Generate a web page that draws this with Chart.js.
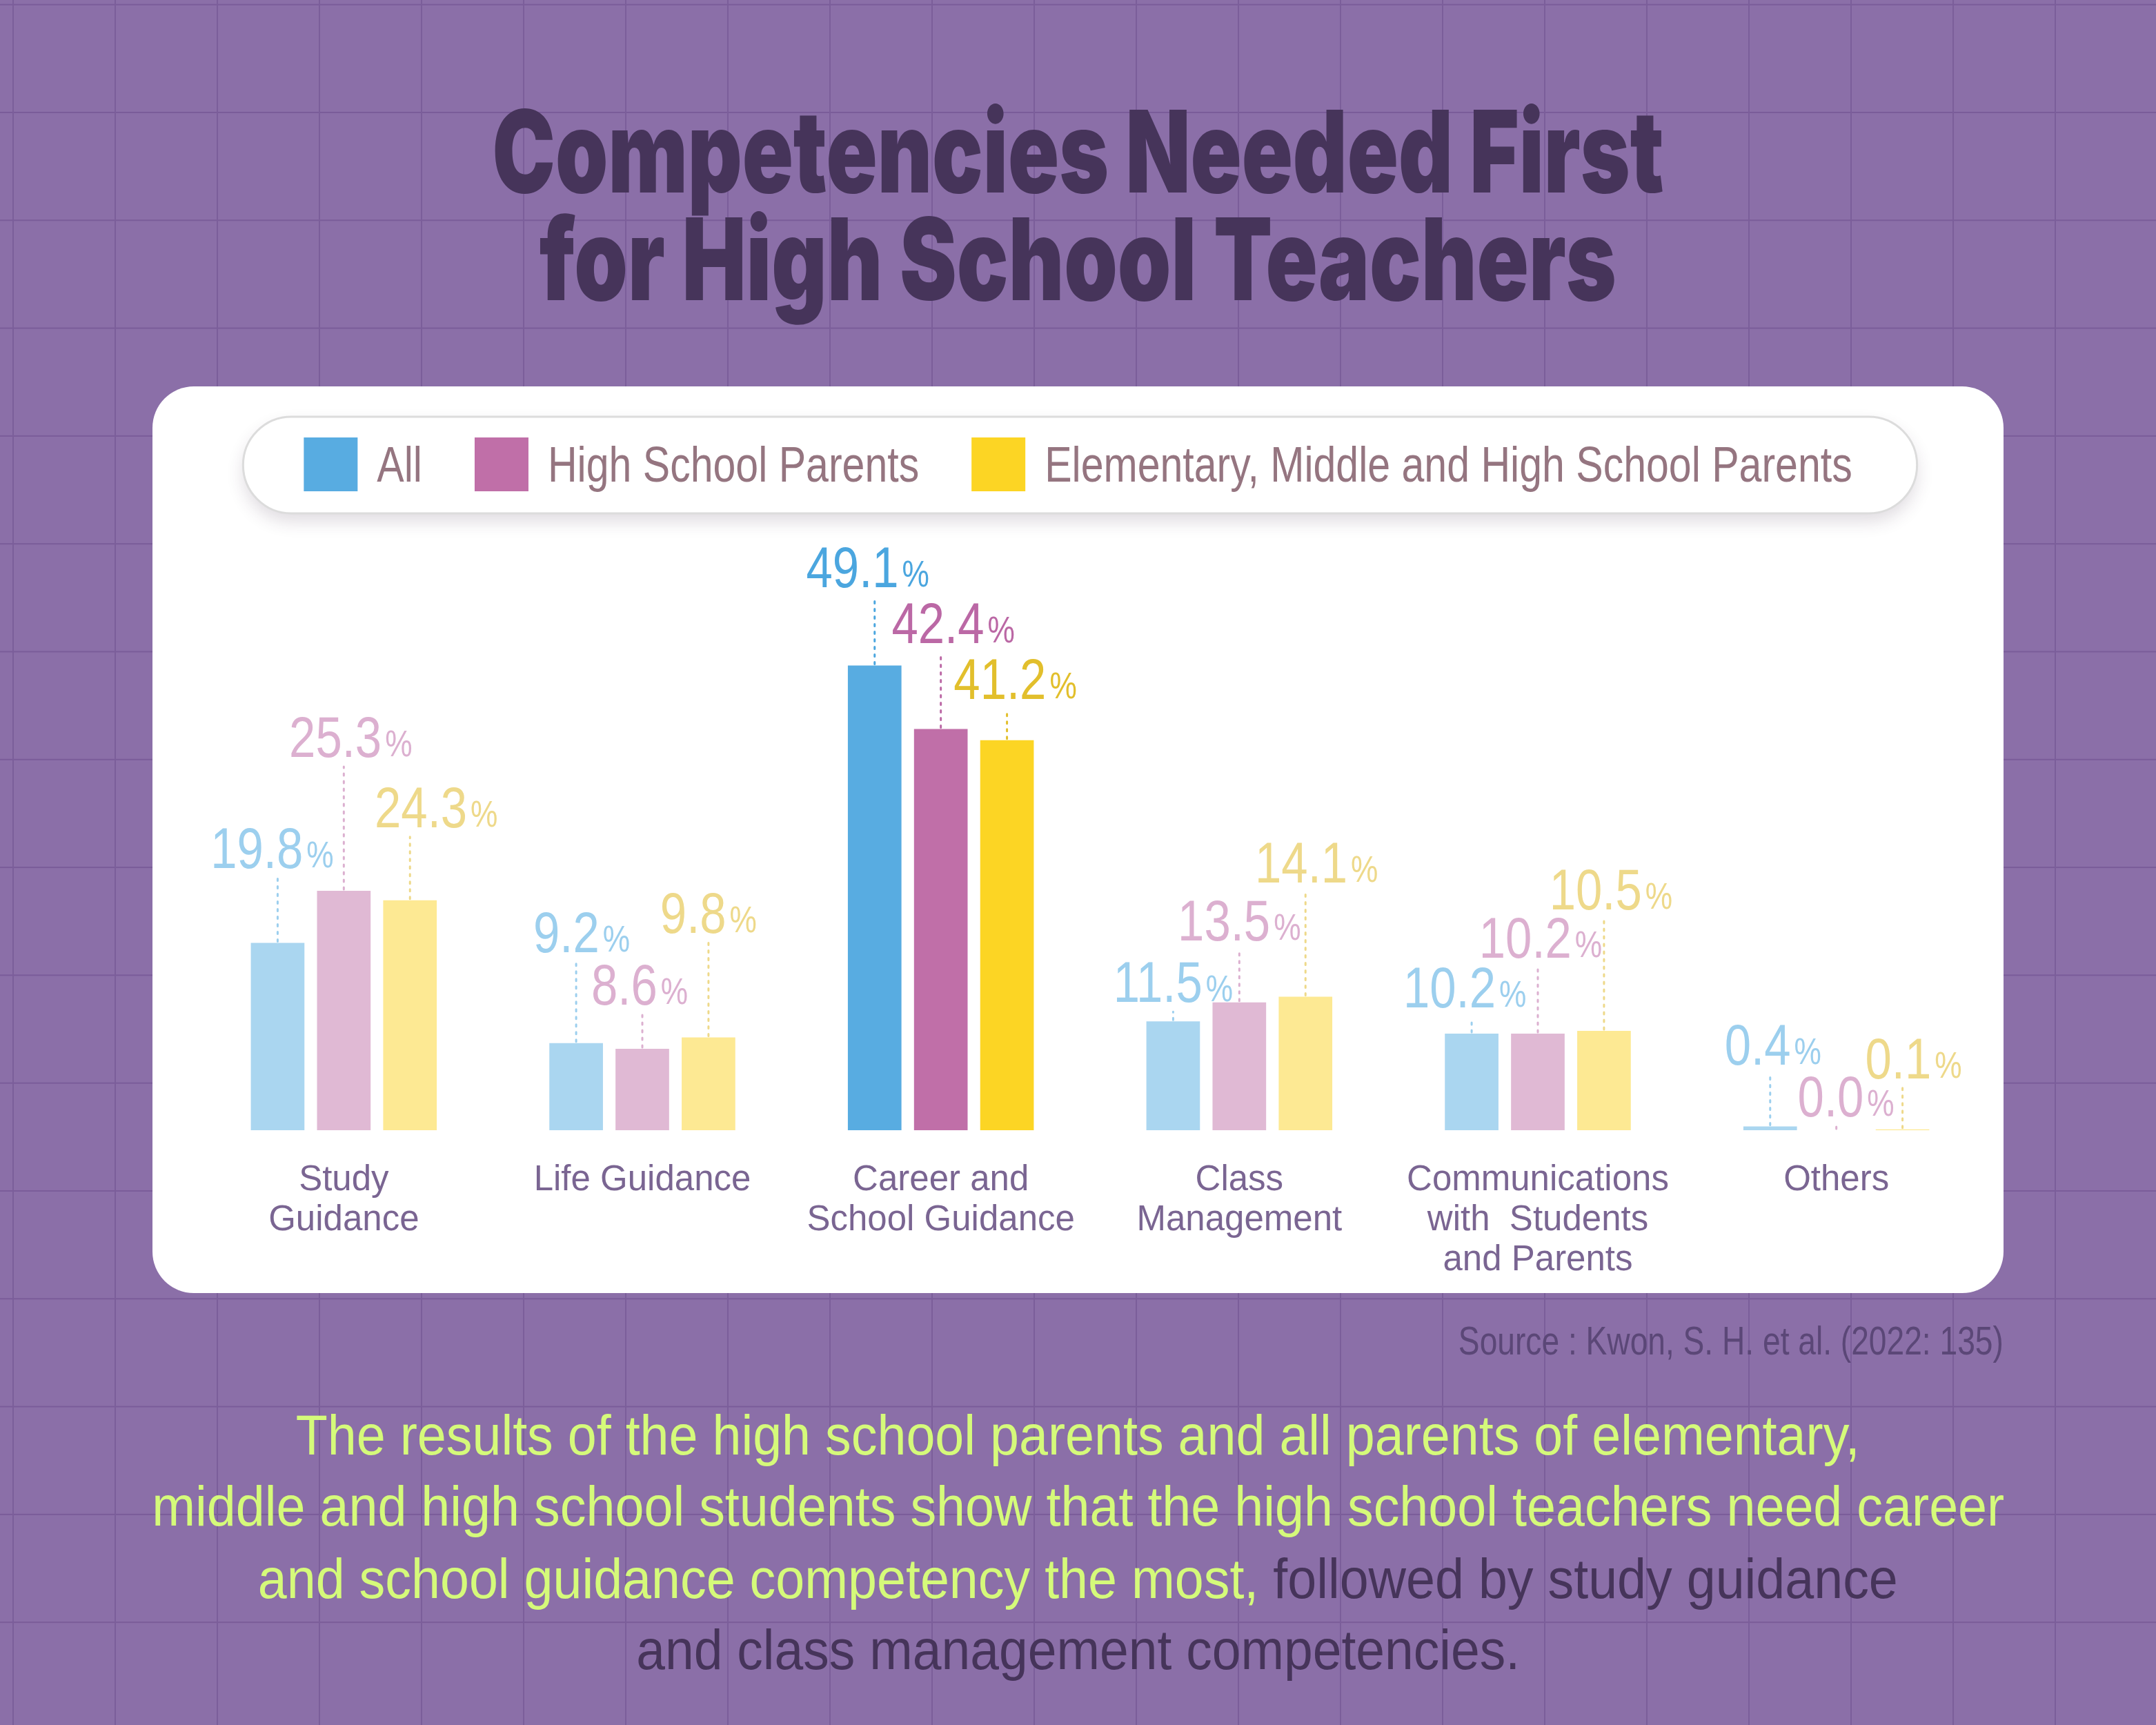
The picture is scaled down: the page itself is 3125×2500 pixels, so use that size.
<!DOCTYPE html>
<html>
<head>
<meta charset="utf-8">
<script src="https://cdn.jsdelivr.net/npm/chart.js@4.4.1/dist/chart.umd.min.js"></script>
<style>
  html, body { margin: 0; padding: 0; }
  body {
    width: 3125px; height: 2500px; overflow: hidden; position: relative;
    background-color: #8b6fa8;
    background-image:
      linear-gradient(to right, #7b5e9a 0, #7b5e9a 2px, transparent 2px),
      linear-gradient(to bottom, #7a5c99 0, #7a5c99 2px, transparent 2px);
    background-size: 148px 100%, 100% 156.3px;
    background-position: 166px 0, 0 162px;
  }
  .line {
    position: absolute; left: 0; width: 3125px; text-align: center;
    white-space: nowrap; line-height: 1;
  }
  .fit { display: inline-block; transform-origin: center; }
  .title { font-family: Inter, sans-serif; font-weight: 900; font-size: 165px; color: #46345a; }
  .note { font-family: 'Liberation Sans', sans-serif; font-size: 82px; color: #d5fa7a; }
  .note .dark { color: #46345a; }
  #source {
    position: absolute; right: 221px; top: 1915px; line-height: 1; white-space: nowrap;
    font-family: 'Liberation Sans', sans-serif; font-size: 57px; color: #5b4777;
    transform-origin: right center;
  }
  #card {
    position: absolute; left: 221px; top: 560px; width: 2683px; height: 1314px;
    background: #fff; border-radius: 60px; overflow: hidden;
  }
</style>
</head>
<body>

<div class="line title" style="top:137px"><span class="fit" data-w="1698">Competencies Needed First</span></div>
<div class="line title" style="top:293px"><span class="fit" data-w="1561">for High School Teachers</span></div>

<div id="card"><canvas id="chart" width="2683" height="1314"></canvas></div>

<div id="source">Source : Kwon, S. H. et al. (2022: 135)</div>

<div class="line note" style="top:2039px"><span class="fit" data-w="2267">The results of the high school parents and all parents of elementary,</span></div>
<div class="line note" style="top:2142px"><span class="fit" data-w="2685">middle and high school students show that the high school teachers need career</span></div>
<div class="line note" style="top:2247px"><span class="fit" data-w="2377">and school guidance competency the most, <span class="dark">followed by study guidance</span></span></div>
<div class="line note" style="top:2350px"><span class="fit dark" data-w="1281">and class management competencies.</span></div>

<script>
// ── DATA ─────────────────────────────────────────────────────

const categories = [
  ['Study', 'Guidance'],
  ['Life Guidance'],
  ['Career and', 'School Guidance'],
  ['Class', 'Management'],
  ['Communications', 'with  Students', 'and Parents'],
  ['Others'],
];
const seriesNames = ['All', 'High School Parents', 'Elementary, Middle and High School Parents'];

const allParents         = [19.8, 9.2, 49.1, 11.5, 10.2, 0.4];
const highSchoolParents  = [25.3, 8.6, 42.4, 13.5, 10.2, 0.0];
const elemMidHighParents = [24.3, 9.8, 41.2, 14.1, 10.5, 0.1];

// ── STYLE ────────────────────────────────────────────────────

const STRONG       = ['#58ace1', '#c06fa8', '#fcd524'];
const PALE         = ['#aad6f0', '#e0b9d4', '#fde993'];
const LABEL_STRONG = ['#4ba6df', '#bb68a5', '#e2bf2c'];
const LABEL_PALE   = ['#9ccfee', '#dcb0d0', '#eed98a'];
const HIGHLIGHT = 2;   // career and school guidance

const SANS = "'Liberation Sans', Arial, sans-serif";
const NARROW_X = 0.82;   // horizontal squeeze for canvas text

// value label nudges in px: lift above bar top, sideways shift
const labelLift  = [[108, 132, 114, 28, 38, 90], [194, 64, 124, 90, 110, 20], [106, 152, 60, 166, 176, 74]];
const labelShift = [[-8, 8, -10, 0, -10, 4], [10, -4, 18, 0, 4, 14], [38, 0, 12, 16, 10, 16]];

// ── HELPERS ──────────────────────────────────────────────────

function fitText(el, w, origin) {
  el.style.transform = '';
  const r = el.getBoundingClientRect().width;
  el.style.transformOrigin = origin || 'center';
  el.style.transform = `scaleX(${w / r})`;
}

function narrowWidth(ctx, text) {
  return ctx.measureText(text).width * NARROW_X;
}

function narrowText(ctx, text, x, y) {
  ctx.save();
  ctx.translate(x, y);
  ctx.scale(NARROW_X, 1);
  ctx.fillText(text, 0, 0);
  ctx.restore();
}

// ── PLUGINS ──────────────────────────────────────────────────

const pillLegend = {
  id: 'pillLegend',
  beforeDraw(chart) {
    const ctx = chart.ctx;
    const box = 78, textGap = 28, itemGap = 76;
    ctx.save();
    ctx.font = `72px ${SANS}`;
    const widths = seriesNames.map(n => narrowWidth(ctx, n));
    const total = widths.reduce((s, w) => s + box + textGap + w, 0) + itemGap * (seriesNames.length - 1);
    let x = chart.width / 2 - total / 2;

    // pill
    const px = x - 88, pw = total + 182, py = 44, ph = 140;
    ctx.shadowColor = 'rgba(60,40,70,0.16)';
    ctx.shadowBlur = 24;
    ctx.shadowOffsetY = 12;
    ctx.beginPath();
    ctx.roundRect(px, py, pw, ph, ph / 2);
    ctx.fillStyle = '#fff';
    ctx.fill();
    ctx.shadowColor = 'transparent';
    ctx.lineWidth = 3;
    ctx.strokeStyle = '#dcdcdc';
    ctx.stroke();

    ctx.textBaseline = 'alphabetic';
    ctx.textAlign = 'left';
    seriesNames.forEach((name, i) => {
      ctx.fillStyle = STRONG[i];
      ctx.fillRect(x, 74, box, box);
      ctx.fillStyle = '#957580';
      narrowText(ctx, name, x + box + textGap, 138);
      x += box + textGap + widths[i] + itemGap;
    });
    ctx.restore();
  }
};

const valueLabels = {
  id: 'valueLabels',
  afterDatasetsDraw(chart) {
    const ctx = chart.ctx;
    ctx.save();
    chart.data.datasets.forEach((ds, i) => {
      const meta = chart.getDatasetMeta(i);
      meta.data.forEach((bar, j) => {
        const color = j === HIGHLIGHT ? LABEL_STRONG[i] : LABEL_PALE[i];
        const num = ds.data[j].toFixed(1);
        ctx.font = `84px ${SANS}`;
        const nw = narrowWidth(ctx, num);
        ctx.font = `54px ${SANS}`;
        const pw = narrowWidth(ctx, '%');
        const gap = 5;
        const cx = bar.x + labelShift[i][j];
        const base = bar.y - labelLift[i][j];
        const left = cx - (nw + gap + pw) / 2;

        // dotted leader
        if (bar.y - (base + 14) > 4) {
          ctx.beginPath();
          ctx.setLineDash([3, 8]);
          ctx.lineCap = 'round';
          ctx.lineWidth = 3;
          ctx.strokeStyle = color;
          ctx.moveTo(bar.x, bar.y - 2);
          ctx.lineTo(bar.x, base + 14);
          ctx.stroke();
          ctx.setLineDash([]);
        }

        ctx.fillStyle = color;
        ctx.textAlign = 'left';
        ctx.textBaseline = 'alphabetic';
        ctx.font = `84px ${SANS}`;
        narrowText(ctx, num, left, base);
        ctx.font = `54px ${SANS}`;
        narrowText(ctx, '%', left + nw + gap, base - 1);
      });
    });
    ctx.restore();
  }
};

// ── CHART ────────────────────────────────────────────────────

function renderChart() {
  const seriesValues = [allParents, highSchoolParents, elemMidHighParents];
  new Chart(document.getElementById('chart'), {
    type: 'bar',
    data: {
      labels: categories,
      datasets: seriesValues.map((vals, i) => ({
        label: seriesNames[i],
        data: vals,
        backgroundColor: categories.map((_, j) => j === HIGHLIGHT ? STRONG[i] : PALE[i]),
        borderWidth: 0,
        categoryPercentage: 0.665,
        barPercentage: 0.81,
      })),
    },
    options: {
      responsive: false,
      devicePixelRatio: 1,
      animation: false,
      layout: { padding: { top: 255, bottom: -26, left: 61, right: 26 } },
      plugins: {
        legend: { display: false },
        tooltip: { enabled: false },
      },
      scales: {
        x: {
          offset: true,
          grid: { display: false, drawTicks: false },
          border: { display: false },
          ticks: {
            color: '#7a6592',
            padding: 44,
            maxRotation: 0,
            autoSkip: false,
            font: { family: SANS, size: 51, lineHeight: 58 / 51 },
          },
        },
        y: {
          display: false,
          min: 0,
          max: 60,
        },
      },
    },
    plugins: [pillLegend, valueLabels],
  });
}

document.fonts.ready.then(() => {
  document.querySelectorAll('.fit').forEach(el => fitText(el, +el.dataset.w));
  fitText(document.getElementById('source'), 790, 'right center');
  renderChart();
});
</script>
</body>
</html>
